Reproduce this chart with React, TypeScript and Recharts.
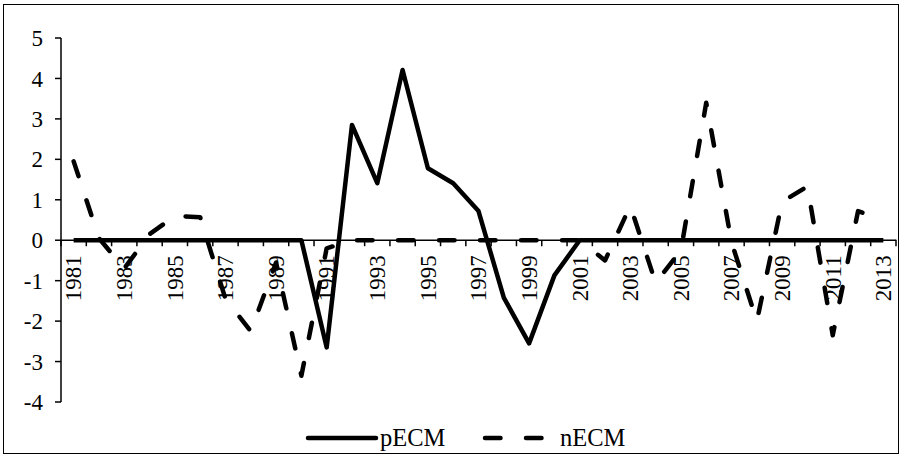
import React from 'react';
import { LineChart, Line, XAxis, YAxis, ReferenceLine, Legend } from 'recharts';

const years = [
  1981, 1982, 1983, 1984, 1985, 1986, 1987, 1988, 1989, 1990, 1991,
  1992, 1993, 1994, 1995, 1996, 1997, 1998, 1999, 2000, 2001, 2002,
  2003, 2004, 2005, 2006, 2007, 2008, 2009, 2010, 2011, 2012, 2013,
];

const pECM = [
  0, 0, 0, 0, 0, 0, 0, 0, 0, 0, -2.65,
  2.85, 1.41, 4.21, 1.78, 1.41, 0.72, -1.42, -2.55, -0.87, 0, 0,
  0, 0, 0, 0, 0, 0, 0, 0, 0, 0, 0,
];

const nECM = [
  1.95, 0.05, -0.7, 0.15, 0.6, 0.57, -1.45, -2.25, -0.55, -3.35, -0.2,
  0, 0, 0, 0, 0, 0, 0, 0, 0, 0, -0.5,
  0.85, -1.05, -0.25, 3.4, -0.05, -2.0, 0.95, 1.33, -2.35, 0.72, 0.5,
];

const yTicks = [-4, -3, -2, -1, 0, 1, 2, 3, 4, 5];

const data = years.map((year, i) => ({
  year: String(year),
  pECM: pECM[i],
  nECM: nECM[i],
}));

// layout
const W = 904;
const H = 458;
const PLOT_LEFT = 61;
const PLOT_RIGHT = 896;
const PLOT_TOP = 38;
const PLOT_BOTTOM = 402;
const X_AXIS_H = 2;
const LEGEND_H = 30;
const FONT = '"Liberation Serif", "Times New Roman", serif';

const yMin = yTicks[0];
const yMax = yTicks[yTicks.length - 1];
const zeroY = PLOT_TOP + ((PLOT_BOTTOM - PLOT_TOP) * yMax) / (yMax - yMin);
const band = (PLOT_RIGHT - PLOT_LEFT) / years.length;

// Excel-style category axis: tick marks between categories, label on every other year
const YearTick = (props: any) => {
  const { x, payload, index } = props;
  const left = x - band / 2;
  const isLast = index === years.length - 1;
  return (
    <g>
      <line x1={left} x2={left} y1={zeroY} y2={zeroY + 6} stroke="#000" strokeWidth={1.5} />
      {isLast && (
        <line x1={x + band / 2} x2={x + band / 2} y1={zeroY - 0.5} y2={zeroY + 6} stroke="#000" strokeWidth={1.5} />
      )}
      {index % 2 === 0 && (
        <text
          x={x}
          y={zeroY + 15}
          dy="0.34em"
          transform={`rotate(-90, ${x}, ${zeroY + 15})`}
          textAnchor="end"
          fontSize={23}
          fontFamily={FONT}
          fill="#000"
        >
          {payload.value}
        </text>
      )}
    </g>
  );
};

const LegendContent = () => (
  <svg width={W} height={LEGEND_H} style={{ display: 'block' }}>
    <line x1={308} x2={376} y1={15} y2={15} stroke="#000" strokeWidth={4.5} strokeLinecap="round" />
    <text x={380} y={15} dy="0.34em" fontSize={24.5} fontFamily={FONT} fill="#000">pECM</text>
    <line x1={485} x2={546} y1={15} y2={15} stroke="#000" strokeWidth={4.5} strokeLinecap="round" strokeDasharray="15.5 25.5" />
    <text x={560} y={15} dy="0.34em" fontSize={24.5} fontFamily={FONT} fill="#000">nECM</text>
  </svg>
);

export default function App() {
  return (
    <div style={{ position: 'absolute', left: 0, top: 0, width: W, height: H, background: '#fff' }}>
      <div
        style={{
          position: 'absolute',
          left: 3,
          top: 4,
          width: 896,
          height: 450,
          border: '1px solid #000',
          boxSizing: 'border-box',
        }}
      />
      <LineChart
        width={W}
        height={H}
        data={data}
        margin={{ top: PLOT_TOP, right: W - PLOT_RIGHT, left: 0, bottom: H - PLOT_BOTTOM - X_AXIS_H - LEGEND_H }}
      >
        <XAxis
          dataKey="year"
          interval={0}
          height={X_AXIS_H}
          padding={{ left: band / 2, right: band / 2 }}
          axisLine={false}
          tickLine={false}
          tick={(p: any) => <YearTick {...p} />}
        />
        <YAxis
          domain={[yMin, yMax]}
          ticks={yTicks}
          interval={0}
          width={PLOT_LEFT}
          tickSize={6}
          tickMargin={12}
          axisLine={{ stroke: '#000', strokeWidth: 1.5 }}
          tickLine={{ stroke: '#000', strokeWidth: 1.5 }}
          tick={{ fill: '#000', fontSize: 23, fontFamily: FONT }}
        />
        <ReferenceLine y={0} stroke="#000" strokeWidth={1.5} />
        <Line
          type="linear"
          dataKey="pECM"
          stroke="#000"
          strokeWidth={4.5}
          strokeLinejoin="round"
          dot={false}
          activeDot={false}
          isAnimationActive={false}
        />
        <Line
          type="linear"
          dataKey="nECM"
          stroke="#000"
          strokeWidth={4.5}
          strokeLinejoin="round"
          strokeLinecap="round"
          strokeDasharray="15.5 25.5"
          dot={false}
          activeDot={false}
          isAnimationActive={false}
        />
        <Legend
          verticalAlign="bottom"
          content={() => <LegendContent />}
          wrapperStyle={{ top: 423, left: 0, width: W, height: LEGEND_H, bottom: 'auto' }}
        />
      </LineChart>
    </div>
  );
}
